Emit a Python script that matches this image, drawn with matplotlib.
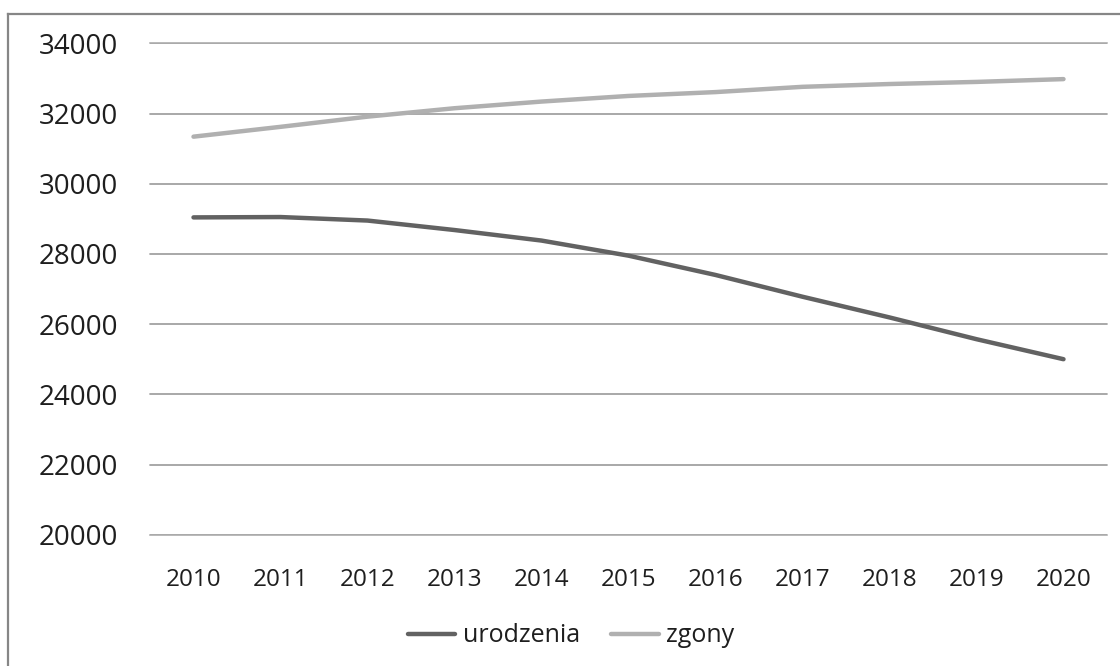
import matplotlib
matplotlib.use('Agg')
import matplotlib.pyplot as plt
from matplotlib.lines import Line2D

lata = [2010, 2011, 2012, 2013, 2014, 2015, 2016, 2017, 2018, 2019, 2020]
urodzenia = [29040, 29050, 28950, 28680, 28380, 27950, 27400, 26780, 26190, 25570, 25000]
zgony = [31340, 31620, 31910, 32150, 32340, 32500, 32610, 32760, 32840, 32900, 32980]
y_ticks = [20000, 22000, 24000, 26000, 28000, 30000, 32000, 34000]

plt.rcParams['font.family'] = ['Open Sans', 'DejaVu Sans']

W, H = 1120, 666
fig = plt.figure(figsize=(W / 100, H / 100), dpi=100)
fig.patch.set_facecolor('white')

# ramka obszaru wykresu (tylko lewa i górna krawędź widoczna)
fig.add_artist(Line2D([8 / W, 8 / W], [0, 1 - 14 / H], color='#868686', lw=1.6))
fig.add_artist(Line2D([8 / W, 1], [1 - 14 / H, 1 - 14 / H], color='#868686', lw=1.6))

ax = fig.add_axes([150 / W, 1 - 534.7 / H, (1107 - 150) / W, (534.7 - 43.3) / H])
ax.set_facecolor('white')

ax.plot(lata, urodzenia, color='#626262', lw=3.2, solid_capstyle='round', label='urodzenia', zorder=3)
ax.plot(lata, zgony, color='#b0b0b0', lw=3.2, solid_capstyle='round', label='zgony', zorder=3)

ax.set_xlim(2009.5, 2020.5)
ax.set_ylim(20000, 34000)
ax.set_xticks(lata)
ax.set_xticklabels([str(r) for r in lata])
ax.set_yticks(y_ticks)
ax.set_yticklabels([str(v) for v in y_ticks])

for s in ax.spines.values():
    s.set_visible(False)
ax.yaxis.grid(True, color='#a6a6a6', lw=1.1)
ax.set_axisbelow(True)
for t in y_ticks:
    ax.axhline(t, color='#a6a6a6', lw=1.1, zorder=1, clip_on=False)

ax.tick_params(axis='y', length=0, pad=23, labelsize=20, labelcolor='#1e1e1e')
ax.tick_params(axis='x', length=0, pad=24, labelsize=17.5, labelcolor='#1e1e1e')

fig.legend(loc='center', bbox_to_anchor=(571 / W, 1 - 636 / H), ncol=2, frameon=False,
           fontsize=18, handlelength=1.9, handletextpad=0.3, columnspacing=1.25,
           labelcolor='#1e1e1e')

fig.savefig('out.png', dpi=100)
